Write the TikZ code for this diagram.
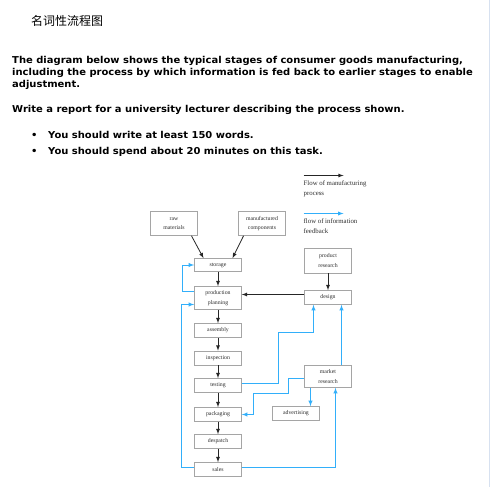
\documentclass[tikz,border=0pt]{standalone}
\usepackage{fontspec}
\setmainfont{Liberation Serif}
\newfontfamily\headfont[FakeStretch=1.05]{DejaVu Sans}
\newfontfamily\cjk{Noto Sans CJK SC}
\usetikzlibrary{arrows}
\usetikzlibrary{calc}

\definecolor{boxgray}{RGB}{165,165,165}
\definecolor{feedblue}{RGB}{50,175,250}
\definecolor{txtgray}{RGB}{45,45,45}
\definecolor{edgeblue}{RGB}{215,225,240}

\tikzset{
	stage/.style={draw=boxgray, line width=0.7pt, minimum width=47pt, minimum height=14pt, inner sep=0pt, align=center, text=txtgray, font=\fontsize{5.8}{9.5}\selectfont},
	legend/.style={anchor=north west, inner sep=0pt, align=left, text=txtgray, font=\fontsize{6.8}{10}\selectfont},
	flow/.style={->, >=latex, line width=0.8pt, black!85},
	feed/.style={->, >=latex, line width=0.9pt, feedblue},
	head/.style={anchor=base west, inner sep=0pt, font=\headfont\bfseries\fontsize{9.5}{12}\selectfont},
}

\begin{document}
\begin{tikzpicture}[x=1pt, y=-1pt]

	% page frame, one unit is one pixel of the page
	\useasboundingbox (0,0) rectangle (490,487);
	\fill[white] (0,0) rectangle (490,487);
	\draw[edgeblue] (489,0) -- (489,487);

	% title and task text
	\node[anchor=base west, inner sep=0pt, font=\cjk\fontsize{12}{14}\selectfont] (title) at (31,26) {名词性流程图};
	\node[head] (line1) at (12,63.3) {The diagram below shows the typical stages of consumer goods manufacturing,};
	\node[head] (line2) at (12,75.3) {including the process by which information is fed back to earlier stages to enable};
	\node[head] (line3) at (12,87.3) {adjustment.};
	\node[head] (task) at (12,112.3) {Write a report for a university lecturer describing the process shown.};
	\node[head] (dot1) at (31,138.3) {•};
	\node[head] (tip1) at (48,138.3) {You should write at least 150 words.};
	\node[head] (dot2) at (31,154.3) {•};
	\node[head] (tip2) at (48,154.3) {You should spend about 20 minutes on this task.};

	% the flow chart, moved half a pixel so thin lines sit on pixels
	\begin{scope}[shift={(0.5,0.5)}]
	% key
	\coordinate (k1) at (303,175);
	\coordinate (k2) at (343,175);
	\coordinate (k3) at (303,213);
	\coordinate (k4) at (343,213);
	\draw[flow] (k1) -- (k2);
	\draw[feed] (k3) -- (k4);
	\node[legend] (kflow) at (303,180.5) {Flow of manufacturing\\process};
	\node[legend] (kfeed) at (303,218) {flow of information\\feedback};

	% inputs
	\node[stage, minimum height=24pt] (raw) at (173.5,223) {raw\\materials};
	\node[stage, minimum height=24pt] (manu) at (261.5,223) {manufactured\\components};

	% main line of stages
	\node[stage, minimum height=13pt] (storage) at (217.5,264.5) {storage};
	\node[stage, minimum height=23pt] (plan) at (217.5,297.5) {production\\planning};
	\node[stage] (assembly) at (217.5,330) {assembly};
	\node[stage] (inspection) at (217.5,357.5) {inspection};
	\node[stage] (testing) at (217.5,385) {testing};
	\node[stage] (packaging) at (217.5,414) {packaging};
	\node[stage] (despatch) at (217.5,441) {despatch};
	\node[stage] (sales) at (217.5,469) {sales};

	% right hand column
	\node[stage, minimum height=25pt] (prodres) at (327.5,260) {product\\research};
	\node[stage] (design) at (327.5,297) {design};
	\node[stage, minimum height=22pt] (market) at (327.5,376) {market\\research};
	\node[stage] (advert) at (295.5,413) {advertising};

	% manufacturing flow
	\draw[flow] ([xshift=17.5pt]raw.south) -- ([xshift=-14.5pt]storage.north);
	\draw[flow] ([xshift=-18.5pt]manu.south) -- ([xshift=14.5pt]storage.north);
	\foreach \a/\b in {storage/plan, plan/assembly, assembly/inspection, inspection/testing, testing/packaging, packaging/despatch, despatch/sales}
		\draw[flow] (\a) -- (\b);
	\draw[flow] (prodres) -- (design);
	\draw[flow] ([yshift=3pt]design.west) -- ([yshift=3pt]design.west -| plan.east);

	% information feedback
	\coordinate (t1) at (278,332);
	\coordinate (m1) at (288,393);
	\coordinate (m2) at (253,393);
	\draw[feed] ([yshift=6.5pt]plan.west) -- ++(-12,0) |- (storage.west);
	\draw[feed] ([yshift=2pt]sales.west) -- ++(-13,0) |- ([yshift=-6.5pt]plan.west);
	\draw[feed] ([yshift=2pt]testing.east) -- ([yshift=2pt]testing.east -| t1) -- (t1) -| ([xshift=-14.5pt]design.south);
	\draw[feed] ([yshift=-2pt]market.west) -| (m1) -- (m2) |- (packaging.east);
	\draw[feed] ([xshift=13.5pt]market.north) -- ([xshift=13.5pt]design.south);
	\draw[feed] ([xshift=-17.5pt]market.south) -- ([xshift=14.5pt]advert.north);
	\draw[feed] ([yshift=2pt]sales.east) -| ([xshift=7.5pt]market.south);
	\end{scope}

\end{tikzpicture}
\end{document}
